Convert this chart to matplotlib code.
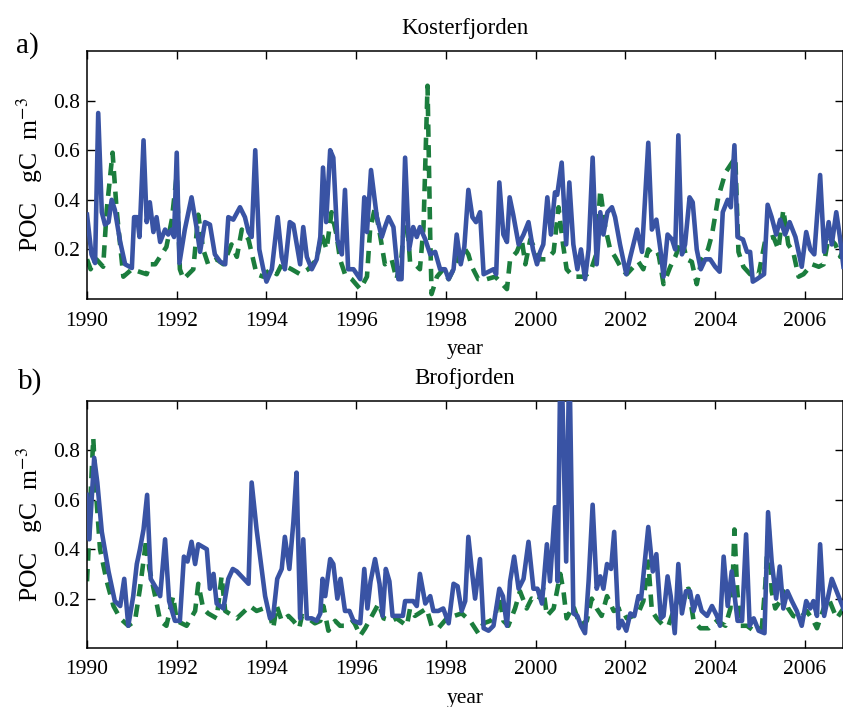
import numpy as np
import matplotlib
matplotlib.use('Agg')
import matplotlib.pyplot as plt

plt.rcParams['font.family'] = ['Liberation Serif', 'DejaVu Serif']
plt.rcParams['mathtext.fontset'] = 'stix'

# Kosterfjorden: observed POC (solid) and model POC (dashed)
kos_obs_t = [1990.0, 1990.1, 1990.18, 1990.25, 1990.33, 1990.4, 1990.48, 1990.55, 1990.62, 1990.74,
             1990.85, 1991.0, 1991.05, 1991.12, 1991.17, 1991.26, 1991.33, 1991.4, 1991.48, 1991.55,
             1991.63, 1991.74, 1991.81, 1991.89, 1991.94, 1992.0, 1992.06, 1992.18, 1992.33, 1992.44,
             1992.52, 1992.63, 1992.74, 1992.85, 1992.97, 1993.08, 1993.15, 1993.26, 1993.41, 1993.52,
             1993.6, 1993.67, 1993.75, 1993.84, 1993.93, 1994.0, 1994.12, 1994.25, 1994.34, 1994.41,
             1994.52, 1994.6, 1994.75, 1994.82, 1994.9, 1995.01, 1995.12, 1995.2, 1995.26, 1995.33,
             1995.42, 1995.49, 1995.58, 1995.68, 1995.75, 1995.82, 1995.94, 1996.09, 1996.18, 1996.24,
             1996.33, 1996.46, 1996.57, 1996.64, 1996.72, 1996.83, 1996.94, 1997.01, 1997.09, 1997.18,
             1997.27, 1997.35, 1997.42, 1997.54, 1997.65, 1997.76, 1997.87, 1997.98, 1998.06, 1998.17,
             1998.24, 1998.33, 1998.41, 1998.5, 1998.59, 1998.67, 1998.76, 1998.84, 1998.95, 1999.06,
             1999.12, 1999.19, 1999.28, 1999.36, 1999.42, 1999.5, 1999.62, 1999.73, 1999.84, 1999.94,
             2000.03, 2000.1, 2000.17, 2000.26, 2000.34, 2000.43, 2000.48, 2000.58, 2000.68, 2000.75,
             2000.84, 2000.93, 2001.01, 2001.1, 2001.18, 2001.27, 2001.36, 2001.44, 2001.51, 2001.6,
             2001.7, 2001.77, 2001.88, 2002.02, 2002.11, 2002.26, 2002.37, 2002.51, 2002.59, 2002.69,
             2002.78, 2002.85, 2002.94, 2003.04, 2003.11, 2003.18, 2003.26, 2003.33, 2003.43, 2003.5,
             2003.59, 2003.68, 2003.78, 2003.89, 2004.0, 2004.1, 2004.17, 2004.28, 2004.35, 2004.43,
             2004.5, 2004.62, 2004.71, 2004.78, 2004.84, 2004.93, 2005.09, 2005.17, 2005.26, 2005.36,
             2005.45, 2005.56, 2005.66, 2005.79, 2005.93, 2006.03, 2006.12, 2006.21, 2006.34, 2006.43,
             2006.53, 2006.6, 2006.7, 2006.78, 2006.86]
kos_obs_v = [0.34, 0.18, 0.145, 0.75, 0.35, 0.30, 0.31, 0.40, 0.36, 0.23,
             0.14, 0.125, 0.33, 0.33, 0.25, 0.64, 0.31, 0.39, 0.27, 0.33,
             0.23, 0.28, 0.26, 0.28, 0.25, 0.59, 0.145, 0.28, 0.41, 0.29,
             0.19, 0.31, 0.30, 0.18, 0.15, 0.14, 0.33, 0.32, 0.37, 0.33,
             0.27, 0.25, 0.60, 0.20, 0.12, 0.07, 0.12, 0.33, 0.17, 0.12,
             0.31, 0.30, 0.14, 0.29, 0.17, 0.12, 0.16, 0.25, 0.53, 0.31,
             0.60, 0.57, 0.24, 0.18, 0.44, 0.12, 0.12, 0.08, 0.41, 0.27,
             0.52, 0.33, 0.25, 0.29, 0.33, 0.29, 0.08, 0.08, 0.57, 0.20,
             0.29, 0.25, 0.29, 0.24, 0.18, 0.19, 0.12, 0.12, 0.08, 0.12,
             0.26, 0.14, 0.21, 0.44, 0.33, 0.31, 0.35, 0.10, 0.11, 0.12,
             0.10, 0.47, 0.26, 0.23, 0.41, 0.34, 0.22, 0.26, 0.31, 0.20,
             0.14, 0.19, 0.22, 0.41, 0.26, 0.43, 0.42, 0.55, 0.22, 0.47,
             0.22, 0.12, 0.20, 0.08, 0.20, 0.57, 0.14, 0.35, 0.26, 0.35,
             0.37, 0.33, 0.22, 0.10, 0.17, 0.28, 0.19, 0.63, 0.28, 0.32,
             0.20, 0.09, 0.26, 0.24, 0.20, 0.66, 0.18, 0.22, 0.41, 0.39,
             0.20, 0.12, 0.16, 0.16, 0.13, 0.11, 0.35, 0.40, 0.37, 0.62,
             0.25, 0.24, 0.19, 0.19, 0.07, 0.08, 0.10, 0.38, 0.33, 0.26,
             0.32, 0.26, 0.31, 0.25, 0.13, 0.27, 0.20, 0.18, 0.50, 0.19,
             0.31, 0.22, 0.35, 0.25, 0.13]

kos_mod_t = [1990.0, 1990.08, 1990.21, 1990.36, 1990.44, 1990.57, 1990.66, 1990.81, 1991.0, 1991.33,
             1991.4, 1991.52, 1991.77, 1991.89, 1992.0, 1992.07, 1992.15, 1992.37, 1992.48, 1992.59,
             1992.7, 1992.89, 1993.04, 1993.22, 1993.34, 1993.45, 1993.6, 1993.78, 1993.93, 1994.08,
             1994.23, 1994.34, 1994.56, 1994.75, 1994.93, 1995.12, 1995.23, 1995.34, 1995.45, 1995.56,
             1995.64, 1995.75, 1995.9, 1996.09, 1996.24, 1996.31, 1996.42, 1996.53, 1996.64, 1996.79,
             1996.9, 1997.01, 1997.11, 1997.2, 1997.31, 1997.42, 1997.5, 1997.59, 1997.65, 1997.68,
             1997.8, 1997.94, 1998.06, 1998.17, 1998.39, 1998.5, 1998.58, 1998.72, 1998.91, 1999.1,
             1999.36, 1999.43, 1999.58, 1999.69, 1999.77, 1999.88, 1999.99, 2000.1, 2000.25, 2000.4,
             2000.51, 2000.61, 2000.69, 2000.84, 2001.07, 2001.22, 2001.35, 2001.44, 2001.55, 2001.66,
             2001.77, 2001.92, 2002.03, 2002.18, 2002.29, 2002.4, 2002.51, 2002.66, 2002.74, 2002.85,
             2003.0, 2003.11, 2003.26, 2003.37, 2003.48, 2003.59, 2003.7, 2003.84, 2003.93, 2004.07,
             2004.23, 2004.34, 2004.45, 2004.49, 2004.52, 2004.63, 2004.78, 2004.97, 2005.12, 2005.3,
             2005.41, 2005.52, 2005.63, 2005.74, 2005.86, 2005.97, 2006.16, 2006.31, 2006.42, 2006.53,
             2006.68, 2006.79, 2006.86]
kos_mod_v = [0.16, 0.12, 0.16, 0.13, 0.36, 0.59, 0.36, 0.09, 0.12, 0.10,
             0.14, 0.14, 0.21, 0.32, 0.50, 0.12, 0.08, 0.12, 0.34, 0.20,
             0.14, 0.16, 0.14, 0.22, 0.17, 0.28, 0.24, 0.10, 0.09, 0.12,
             0.10, 0.14, 0.12, 0.10, 0.12, 0.16, 0.26, 0.20, 0.35, 0.26,
             0.16, 0.10, 0.08, 0.04, 0.09, 0.28, 0.37, 0.26, 0.14, 0.16,
             0.08, 0.17, 0.39, 0.15, 0.14, 0.12, 0.29, 0.86, 0.25, 0.02,
             0.09, 0.12, 0.08, 0.12, 0.21, 0.18, 0.13, 0.08, 0.08, 0.09,
             0.04, 0.16, 0.19, 0.24, 0.14, 0.24, 0.20, 0.16, 0.16, 0.19,
             0.37, 0.22, 0.12, 0.09, 0.09, 0.11, 0.18, 0.44, 0.29, 0.20,
             0.17, 0.12, 0.10, 0.13, 0.15, 0.12, 0.20, 0.17, 0.18, 0.06,
             0.13, 0.17, 0.24, 0.16, 0.15, 0.06, 0.16, 0.20, 0.26, 0.41,
             0.51, 0.54, 0.57, 0.36, 0.19, 0.13, 0.10, 0.10, 0.24, 0.25,
             0.20, 0.36, 0.22, 0.19, 0.09, 0.10, 0.14, 0.13, 0.14, 0.25,
             0.22, 0.17, 0.20]

# Brofjorden: observed POC (solid) and model POC (dashed)
bro_obs_t = [1990.0, 1990.05, 1990.16, 1990.23, 1990.33, 1990.48, 1990.62, 1990.74, 1990.83, 1990.92,
             1991.03, 1991.11, 1991.18, 1991.26, 1991.34, 1991.42, 1991.55, 1991.63, 1991.74, 1991.83,
             1991.96, 1992.07, 1992.16, 1992.24, 1992.33, 1992.41, 1992.48, 1992.67, 1992.74, 1992.82,
             1992.89, 1993.04, 1993.15, 1993.25, 1993.34, 1993.6, 1993.67, 1993.78, 1993.97, 1994.08,
             1994.15, 1994.24, 1994.34, 1994.41, 1994.51, 1994.6, 1994.67, 1994.75, 1994.82, 1994.9,
             1995.01, 1995.12, 1995.2, 1995.25, 1995.31, 1995.42, 1995.49, 1995.58, 1995.65, 1995.75,
             1995.85, 1995.94, 1996.09, 1996.18, 1996.25, 1996.32, 1996.42, 1996.52, 1996.59, 1996.66,
             1996.74, 1996.81, 1996.94, 1997.04, 1997.09, 1997.2, 1997.27, 1997.35, 1997.42, 1997.54,
             1997.65, 1997.72, 1997.83, 1997.94, 1998.06, 1998.17, 1998.26, 1998.35, 1998.43, 1998.5,
             1998.58, 1998.65, 1998.76, 1998.84, 1998.95, 1999.06, 1999.19, 1999.27, 1999.36, 1999.43,
             1999.52, 1999.62, 1999.73, 1999.84, 1999.95, 2000.04, 2000.14, 2000.25, 2000.32, 2000.43,
             2000.49, 2000.56, 2000.68, 2000.75, 2000.84, 2000.93, 2001.01, 2001.1, 2001.18, 2001.27,
             2001.36, 2001.44, 2001.51, 2001.59, 2001.68, 2001.75, 2001.85, 2001.92, 2002.02, 2002.11,
             2002.2, 2002.29, 2002.35, 2002.51, 2002.61, 2002.69, 2002.79, 2002.85, 2002.94, 2003.01,
             2003.1, 2003.18, 2003.26, 2003.35, 2003.44, 2003.52, 2003.61, 2003.7, 2003.82, 2003.93,
             2004.04, 2004.11, 2004.19, 2004.28, 2004.37, 2004.5, 2004.6, 2004.69, 2004.77, 2004.86,
             2004.97, 2005.1, 2005.18, 2005.26, 2005.36, 2005.44, 2005.52, 2005.61, 2005.71, 2005.82,
             2005.93, 2006.03, 2006.12, 2006.19, 2006.27, 2006.34, 2006.43, 2006.6, 2006.75, 2006.86]
bro_obs_v = [0.62, 0.44, 0.77, 0.67, 0.47, 0.31, 0.19, 0.17, 0.28, 0.09,
             0.21, 0.34, 0.40, 0.48, 0.62, 0.28, 0.24, 0.21, 0.44, 0.19,
             0.11, 0.11, 0.37, 0.35, 0.43, 0.34, 0.42, 0.40, 0.24, 0.30,
             0.18, 0.16, 0.28, 0.32, 0.31, 0.26, 0.67, 0.48, 0.21, 0.12,
             0.13, 0.28, 0.32, 0.45, 0.32, 0.51, 0.71, 0.12, 0.44, 0.12,
             0.12, 0.11, 0.14, 0.28, 0.21, 0.36, 0.34, 0.20, 0.28, 0.15,
             0.15, 0.11, 0.10, 0.32, 0.16, 0.27, 0.36, 0.26, 0.13, 0.32,
             0.27, 0.13, 0.13, 0.13, 0.19, 0.19, 0.19, 0.17, 0.30, 0.18,
             0.21, 0.15, 0.15, 0.16, 0.10, 0.26, 0.25, 0.15, 0.19, 0.45,
             0.31, 0.20, 0.36, 0.08, 0.07, 0.09, 0.24, 0.21, 0.09, 0.27,
             0.37, 0.24, 0.28, 0.43, 0.24, 0.24, 0.18, 0.42, 0.27, 0.57,
             0.27, 1.30, 0.35, 1.20, 0.14, 0.13, 0.09, 0.06, 0.27, 0.58,
             0.24, 0.29, 0.24, 0.34, 0.32, 0.47, 0.08, 0.11, 0.07, 0.14,
             0.13, 0.21, 0.20, 0.49, 0.31, 0.38, 0.12, 0.13, 0.29, 0.21,
             0.06, 0.34, 0.14, 0.23, 0.23, 0.15, 0.21, 0.15, 0.13, 0.17,
             0.13, 0.09, 0.37, 0.17, 0.31, 0.11, 0.11, 0.46, 0.09, 0.12,
             0.07, 0.06, 0.55, 0.35, 0.20, 0.33, 0.16, 0.23, 0.19, 0.15,
             0.09, 0.19, 0.16, 0.19, 0.13, 0.42, 0.13, 0.28, 0.21, 0.16]

bro_mod_t = [1990.0, 1990.03, 1990.08, 1990.14, 1990.2, 1990.29, 1990.44, 1990.59, 1990.74, 1990.92,
             1991.07, 1991.18, 1991.32, 1991.39, 1991.52, 1991.63, 1991.77, 1991.92, 1992.0, 1992.22,
             1992.41, 1992.48, 1992.59, 1992.7, 1992.89, 1993.0, 1993.08, 1993.34, 1993.63, 1993.78,
             1993.93, 1994.04, 1994.15, 1994.23, 1994.34, 1994.49, 1994.6, 1994.73, 1994.79, 1994.93,
             1995.08, 1995.2, 1995.27, 1995.38, 1995.53, 1995.64, 1995.79, 1995.94, 1996.09, 1996.2,
             1996.35, 1996.5, 1996.61, 1996.79, 1996.9, 1997.13, 1997.2, 1997.31, 1997.57, 1997.68,
             1997.83, 1998.02, 1998.35, 1998.54, 1998.72, 1998.84, 1998.99, 1999.1, 1999.19, 1999.28,
             1999.39, 1999.54, 1999.65, 1999.8, 1999.91, 2000.06, 2000.17, 2000.25, 2000.4, 2000.55,
             2000.62, 2000.69, 2000.84, 2000.99, 2001.14, 2001.25, 2001.36, 2001.47, 2001.59, 2001.74,
             2001.92, 2002.03, 2002.18, 2002.26, 2002.4, 2002.51, 2002.59, 2002.7, 2002.85, 2002.96,
             2003.11, 2003.26, 2003.41, 2003.52, 2003.67, 2003.86, 2004.04, 2004.23, 2004.34, 2004.4,
             2004.43, 2004.49, 2004.56, 2004.71, 2004.86, 2005.04, 2005.12, 2005.19, 2005.26, 2005.34,
             2005.45, 2005.52, 2005.63, 2005.74, 2005.89, 2006.04, 2006.19, 2006.27, 2006.42, 2006.53,
             2006.71, 2006.86]
bro_mod_v = [0.27, 0.38, 0.62, 0.85, 0.63, 0.40, 0.27, 0.17, 0.12, 0.09,
             0.11, 0.24, 0.44, 0.32, 0.21, 0.11, 0.09, 0.21, 0.11, 0.09,
             0.15, 0.26, 0.16, 0.14, 0.12, 0.29, 0.15, 0.12, 0.17, 0.15,
             0.16, 0.16, 0.08, 0.17, 0.11, 0.13, 0.11, 0.08, 0.13, 0.12,
             0.10, 0.11, 0.17, 0.07, 0.11, 0.09, 0.09, 0.11, 0.05, 0.08,
             0.13, 0.18, 0.12, 0.11, 0.12, 0.09, 0.16, 0.13, 0.16, 0.09,
             0.08, 0.12, 0.14, 0.11, 0.06, 0.10, 0.11, 0.13, 0.21, 0.11,
             0.09, 0.16, 0.23, 0.16, 0.20, 0.19, 0.24, 0.13, 0.16, 0.30,
             0.23, 0.12, 0.17, 0.09, 0.11, 0.20, 0.16, 0.13, 0.21, 0.15,
             0.16, 0.12, 0.13, 0.13, 0.19, 0.35, 0.15, 0.12, 0.09, 0.09,
             0.17, 0.23, 0.24, 0.11, 0.08, 0.08, 0.11, 0.09, 0.16, 0.32,
             0.48, 0.24, 0.09, 0.09, 0.07, 0.08, 0.26, 0.50, 0.23, 0.16,
             0.19, 0.23, 0.16, 0.13, 0.12, 0.15, 0.11, 0.08, 0.16, 0.20,
             0.12, 0.16]

panels = [
    ('a)', 'Kosterfjorden', kos_obs_t, kos_obs_v, kos_mod_t, kos_mod_v),
    ('b)', 'Brofjorden', bro_obs_t, bro_obs_v, bro_mod_t, bro_mod_v),
]

obs_color = '#3953a4'
mod_color = '#1b7d3d'

fig = plt.figure(figsize=(8.43, 7.07), dpi=100)
W, H = 843.0, 707.0
# axes boxes in pixels: (left, top, bottom)
boxes = [(87, 51, 299), (87, 401, 648)]
tag_pos = [(27, 46), (30, 382)]

for (tag, name, ot, ov, mt, mv), (left, top, bottom), (tx, ty) in zip(panels, boxes, tag_pos):
    ax = fig.add_axes([left / W, 1 - bottom / H, (W - left) / W, (bottom - top) / H])
    ax.plot(ot, ov, color=obs_color, lw=3.3, solid_joinstyle='round', zorder=3)
    ax.plot(mt, mv, color=mod_color, lw=3.3, dashes=(2.7, 1.8), zorder=2)
    ax.set_xlim(1990, 2006.85)
    ax.set_ylim(0, 1)
    ax.set_xticks(np.arange(1990, 2007, 2))
    ax.set_yticks([0.2, 0.4, 0.6, 0.8])
    ax.tick_params(direction='in', top=True, right=True, length=6, width=1,
                   labelsize=15.5)
    ax.tick_params(axis='x', pad=9)
    ax.tick_params(axis='y', pad=5)
    for sp in ax.spines.values():
        sp.set_linewidth(1.1)
    ax.set_title(name, fontsize=16.5, pad=12)
    ax.set_xlabel('year', fontsize=15.5, labelpad=7)
    ax.set_ylabel('POC   gC  m$^{-3}$', fontsize=18.5)
    ax.yaxis.set_label_coords(-0.056, 0.5)
    fig.text(tx / W, 1 - ty / H, tag, fontsize=21, ha='center', va='center')

fig.savefig('out.png', dpi=100)
